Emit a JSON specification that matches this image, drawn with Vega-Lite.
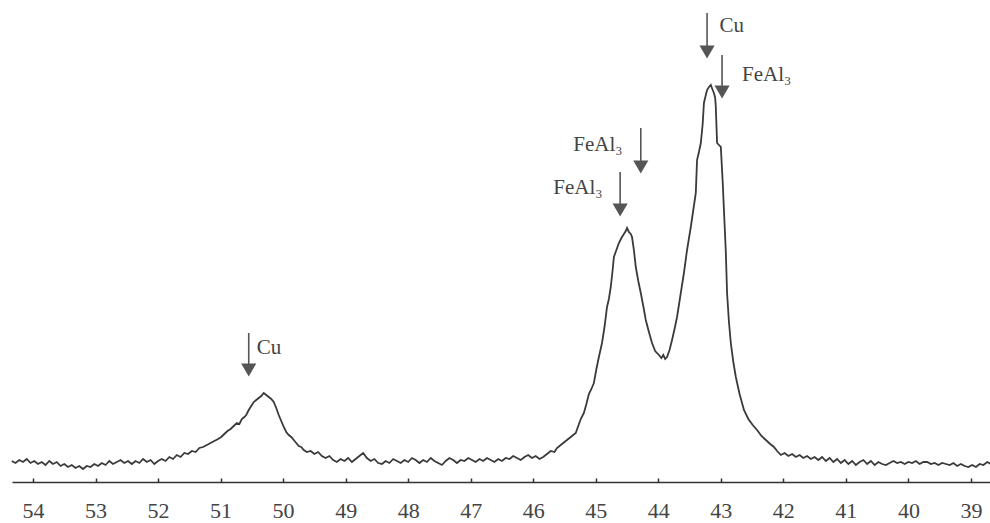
{
  "$schema": "https://vega.github.io/schema/vega-lite/v6.json",
  "width": 982,
  "height": 482,
  "padding": {"left": 8, "top": 0, "right": 0, "bottom": 0},
  "background": "white",
  "config": {
    "view": {"stroke": null},
    "axis": {"grid": false}
  },
  "datasets": {
    "curve": [
      {"t":54.34,"i":21},{"t":54.28,"i":19},{"t":54.22,"i":22},{"t":54.16,"i":20},{"t":54.10,"i":23},{"t":54.04,"i":19},{"t":53.98,"i":21},{"t":53.92,"i":18},{"t":53.86,"i":20},{"t":53.80,"i":17},{"t":53.74,"i":21},{"t":53.68,"i":18},{"t":53.62,"i":20},{"t":53.56,"i":16},{"t":53.50,"i":18},{"t":53.44,"i":15},{"t":53.38,"i":17},{"t":53.32,"i":14},{"t":53.26,"i":16},{"t":53.20,"i":13},{"t":53.14,"i":16},{"t":53.08,"i":15},{"t":53.02,"i":18},{"t":52.96,"i":16},{"t":52.90,"i":19},{"t":52.84,"i":17},{"t":52.78,"i":21},{"t":52.72,"i":18},{"t":52.66,"i":20},{"t":52.60,"i":22},{"t":52.54,"i":19},{"t":52.48,"i":21},{"t":52.42,"i":18},{"t":52.36,"i":21},{"t":52.30,"i":19},{"t":52.24,"i":23},{"t":52.18,"i":20},{"t":52.12,"i":22},{"t":52.06,"i":18},{"t":52.00,"i":21},{"t":51.94,"i":23},{"t":51.88,"i":21},{"t":51.82,"i":25},{"t":51.76,"i":23},{"t":51.70,"i":27},{"t":51.64,"i":25},{"t":51.58,"i":29},{"t":51.52,"i":28},{"t":51.46,"i":31},{"t":51.40,"i":30},{"t":51.34,"i":34},{"t":51.28,"i":35},{"t":51.22,"i":37},{"t":51.16,"i":39},{"t":51.10,"i":41},{"t":51.04,"i":43},{"t":50.99,"i":45},{"t":50.94,"i":48},{"t":50.89,"i":51},{"t":50.84,"i":53},{"t":50.79,"i":56},{"t":50.74,"i":59},{"t":50.70,"i":58},{"t":50.66,"i":63},{"t":50.62,"i":65},{"t":50.59,"i":67},{"t":50.55,"i":72},{"t":50.51,"i":76},{"t":50.47,"i":80},{"t":50.43,"i":82},{"t":50.39,"i":84},{"t":50.35,"i":86},{"t":50.31,"i":89},{"t":50.27,"i":87},{"t":50.23,"i":85},{"t":50.19,"i":83},{"t":50.15,"i":80},{"t":50.11,"i":74},{"t":50.07,"i":67},{"t":50.03,"i":61},{"t":49.99,"i":55},{"t":49.95,"i":50},{"t":49.91,"i":47},{"t":49.87,"i":45},{"t":49.83,"i":42},{"t":49.79,"i":39},{"t":49.75,"i":36},{"t":49.71,"i":35},{"t":49.67,"i":32},{"t":49.62,"i":30},{"t":49.56,"i":31},{"t":49.50,"i":28},{"t":49.44,"i":30},{"t":49.38,"i":26},{"t":49.32,"i":24},{"t":49.26,"i":26},{"t":49.20,"i":22},{"t":49.14,"i":20},{"t":49.08,"i":23},{"t":49.02,"i":21},{"t":48.96,"i":24},{"t":48.90,"i":20},{"t":48.84,"i":23},{"t":48.78,"i":26},{"t":48.72,"i":29},{"t":48.66,"i":24},{"t":48.60,"i":21},{"t":48.54,"i":23},{"t":48.48,"i":19},{"t":48.42,"i":18},{"t":48.36,"i":21},{"t":48.30,"i":19},{"t":48.24,"i":23},{"t":48.18,"i":21},{"t":48.12,"i":19},{"t":48.06,"i":22},{"t":48.00,"i":20},{"t":47.94,"i":24},{"t":47.88,"i":22},{"t":47.82,"i":19},{"t":47.76,"i":22},{"t":47.70,"i":20},{"t":47.64,"i":24},{"t":47.58,"i":21},{"t":47.52,"i":19},{"t":47.46,"i":17},{"t":47.40,"i":21},{"t":47.34,"i":24},{"t":47.28,"i":22},{"t":47.22,"i":19},{"t":47.16,"i":22},{"t":47.10,"i":21},{"t":47.04,"i":24},{"t":46.98,"i":22},{"t":46.92,"i":20},{"t":46.86,"i":23},{"t":46.80,"i":21},{"t":46.74,"i":24},{"t":46.68,"i":22},{"t":46.62,"i":20},{"t":46.56,"i":23},{"t":46.50,"i":21},{"t":46.44,"i":24},{"t":46.38,"i":23},{"t":46.32,"i":26},{"t":46.26,"i":24},{"t":46.20,"i":22},{"t":46.14,"i":25},{"t":46.08,"i":27},{"t":46.02,"i":24},{"t":45.96,"i":26},{"t":45.90,"i":23},{"t":45.84,"i":25},{"t":45.78,"i":28},{"t":45.72,"i":31},{"t":45.66,"i":30},{"t":45.62,"i":34},{"t":45.56,"i":37},{"t":45.50,"i":40},{"t":45.44,"i":43},{"t":45.38,"i":46},{"t":45.32,"i":49},{"t":45.28,"i":56},{"t":45.24,"i":63},{"t":45.19,"i":69},{"t":45.15,"i":78},{"t":45.11,"i":88},{"t":45.07,"i":93},{"t":45.03,"i":99},{"t":44.99,"i":113},{"t":44.95,"i":125},{"t":44.90,"i":139},{"t":44.86,"i":155},{"t":44.82,"i":175},{"t":44.79,"i":183},{"t":44.76,"i":195},{"t":44.73,"i":212},{"t":44.71,"i":225},{"t":44.67,"i":232},{"t":44.63,"i":239},{"t":44.59,"i":244},{"t":44.55,"i":248},{"t":44.52,"i":251},{"t":44.50,"i":254},{"t":44.47,"i":250},{"t":44.44,"i":248},{"t":44.42,"i":245},{"t":44.39,"i":232},{"t":44.36,"i":215},{"t":44.32,"i":201},{"t":44.28,"i":189},{"t":44.24,"i":176},{"t":44.20,"i":162},{"t":44.15,"i":150},{"t":44.10,"i":139},{"t":44.05,"i":131},{"t":43.99,"i":127},{"t":43.95,"i":124},{"t":43.92,"i":127},{"t":43.89,"i":123},{"t":43.86,"i":125},{"t":43.82,"i":132},{"t":43.78,"i":142},{"t":43.74,"i":153},{"t":43.70,"i":165},{"t":43.65,"i":185},{"t":43.59,"i":209},{"t":43.54,"i":232},{"t":43.48,"i":255},{"t":43.44,"i":272},{"t":43.40,"i":289},{"t":43.38,"i":322},{"t":43.35,"i":330},{"t":43.32,"i":339},{"t":43.29,"i":358},{"t":43.27,"i":379},{"t":43.24,"i":387},{"t":43.22,"i":392},{"t":43.19,"i":395},{"t":43.16,"i":397},{"t":43.13,"i":392},{"t":43.11,"i":389},{"t":43.09,"i":384},{"t":43.08,"i":375},{"t":43.06,"i":339},{"t":43.03,"i":337},{"t":43.00,"i":335},{"t":42.97,"i":300},{"t":42.95,"i":272},{"t":42.92,"i":230},{"t":42.90,"i":189},{"t":42.87,"i":160},{"t":42.84,"i":139},{"t":42.80,"i":120},{"t":42.76,"i":105},{"t":42.70,"i":88},{"t":42.63,"i":72},{"t":42.56,"i":63},{"t":42.49,"i":57},{"t":42.42,"i":52},{"t":42.35,"i":46},{"t":42.28,"i":42},{"t":42.21,"i":38},{"t":42.15,"i":35},{"t":42.10,"i":31},{"t":42.04,"i":27},{"t":41.98,"i":29},{"t":41.92,"i":26},{"t":41.86,"i":28},{"t":41.80,"i":25},{"t":41.74,"i":27},{"t":41.68,"i":24},{"t":41.62,"i":26},{"t":41.56,"i":23},{"t":41.50,"i":25},{"t":41.44,"i":22},{"t":41.38,"i":25},{"t":41.32,"i":21},{"t":41.26,"i":24},{"t":41.20,"i":20},{"t":41.14,"i":23},{"t":41.08,"i":19},{"t":41.02,"i":22},{"t":40.96,"i":18},{"t":40.90,"i":21},{"t":40.84,"i":17},{"t":40.78,"i":20},{"t":40.72,"i":22},{"t":40.66,"i":18},{"t":40.60,"i":21},{"t":40.54,"i":17},{"t":40.48,"i":20},{"t":40.42,"i":18},{"t":40.36,"i":17},{"t":40.30,"i":19},{"t":40.24,"i":21},{"t":40.18,"i":19},{"t":40.12,"i":20},{"t":40.06,"i":18},{"t":40.00,"i":20},{"t":39.94,"i":19},{"t":39.88,"i":21},{"t":39.82,"i":18},{"t":39.76,"i":20},{"t":39.70,"i":20},{"t":39.64,"i":18},{"t":39.58,"i":19},{"t":39.52,"i":17},{"t":39.46,"i":19},{"t":39.40,"i":18},{"t":39.34,"i":17},{"t":39.28,"i":19},{"t":39.22,"i":16},{"t":39.16,"i":18},{"t":39.10,"i":16},{"t":39.04,"i":15},{"t":38.98,"i":17},{"t":38.92,"i":15},{"t":38.86,"i":18},{"t":38.80,"i":17},{"t":38.74,"i":20},{"t":38.68,"i":18},{"t":38.63,"i":20}
    ],
    "arrows": [
      {"t":50.55,"top":149,"bot":118,"head":112},
      {"t":44.61,"top":310,"bot":278,"head":272},
      {"t":44.28,"top":354,"bot":321,"head":315},
      {"t":43.22,"top":469,"bot":436,"head":430},
      {"t":42.98,"top":427,"bot":396,"head":390}
    ],
    "labels": [
      {"t":50.42,"y":134,"label":"Cu","side":"left"},
      {"t":44.89,"y":294,"label":"FeAl₃","side":"right"},
      {"t":44.57,"y":337,"label":"FeAl₃","side":"right"},
      {"t":43.02,"y":456,"label":"Cu","side":"left"},
      {"t":42.66,"y":407,"label":"FeAl₃","side":"left"}
    ]
  },
  "layer": [
    {
      "data": {"name": "curve"},
      "mark": {"type": "line", "color": "#3a3a3a", "strokeWidth": 1.8, "interpolate": "linear"},
      "encoding": {
        "x": {
          "field": "t", "type": "quantitative",
          "scale": {"domain": [38.631, 54.336], "reverse": true, "nice": false, "zero": false},
          "axis": {
            "title": null,
            "values": [54,53,52,51,50,49,48,47,46,45,44,43,42,41,40,39],
            "format": "d",
            "labelFont": "Liberation Serif",
            "labelFontSize": 22,
            "labelColor": "#444",
            "labelPadding": 22,
            "labelOverlap": false,
            "labelBound": false,
            "labelFlush": false,
            "domainColor": "#333",
            "domainWidth": 1.5,
            "tickColor": "#333",
            "tickSize": -4,
            "tickWidth": 1.5,
            "grid": false
          }
        },
        "y": {
          "field": "i", "type": "quantitative",
          "scale": {"domain": [0, 482], "nice": false, "zero": true},
          "axis": null
        }
      }
    },
    {
      "data": {"name": "arrows"},
      "mark": {"type": "rule", "color": "#555", "strokeWidth": 1.6},
      "encoding": {
        "x": {"field": "t", "type": "quantitative"},
        "y": {"field": "top", "type": "quantitative"},
        "y2": {"field": "bot"}
      }
    },
    {
      "data": {"name": "arrows"},
      "mark": {"type": "point", "shape": "triangle-down", "filled": true, "color": "#555", "size": 230, "opacity": 1},
      "encoding": {
        "x": {"field": "t", "type": "quantitative"},
        "y": {"field": "head", "type": "quantitative"}
      }
    },
    {
      "data": {"name": "labels"},
      "transform": [{"filter": "datum.side === 'left'"}],
      "mark": {"type": "text", "align": "left", "baseline": "middle", "font": "Liberation Serif", "fontSize": 21, "color": "#444"},
      "encoding": {
        "x": {"field": "t", "type": "quantitative"},
        "y": {"field": "y", "type": "quantitative"},
        "text": {"field": "label"}
      }
    },
    {
      "data": {"name": "labels"},
      "transform": [{"filter": "datum.side === 'right'"}],
      "mark": {"type": "text", "align": "right", "baseline": "middle", "font": "Liberation Serif", "fontSize": 21, "color": "#444"},
      "encoding": {
        "x": {"field": "t", "type": "quantitative"},
        "y": {"field": "y", "type": "quantitative"},
        "text": {"field": "label"}
      }
    }
  ]
}
